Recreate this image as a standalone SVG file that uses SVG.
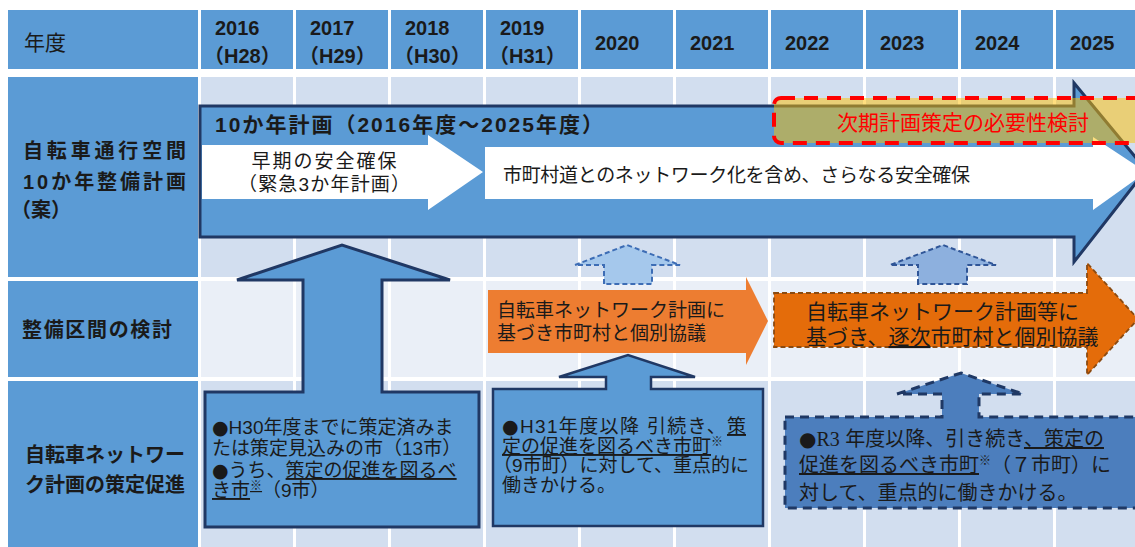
<svg xmlns="http://www.w3.org/2000/svg" width="1135" height="547" viewBox="0 0 1135 547">
<style>
text{font-family:"Liberation Sans","Noto Sans CJK JP",sans-serif;fill:#1a1a1a}
.cj{font-family:"DejaVu Sans","Noto Sans CJK JP",sans-serif}
.hd{fill:#5B9BD5}
.r2{fill:#D2DEEF}
.r3{fill:#EAEFF7}
.lbl{font-size:20px;font-weight:bold}
.yr{font-size:20px;font-weight:bold}
.bx{font-size:19px}
.u{text-decoration:underline}
.sup{font-size:12px;baseline-shift:super}
.dash{stroke-width:2;stroke-dasharray:5 3}
</style>
<defs>
<rect id="c2" width="92" height="200"/>
<rect id="c3" width="92" height="96"/>
<rect id="c4" width="92" height="166"/>
</defs>
<rect width="1135" height="547" fill="#fff"/>
<g id="grid">
 <g class="hd">
  <rect x="8" y="10" width="190" height="59"/>
  <rect x="201" y="10" width="92" height="59"/><rect x="296" y="10" width="92" height="59"/><rect x="391" y="10" width="92" height="59"/><rect x="486" y="10" width="92" height="59"/><rect x="581" y="10" width="92" height="59"/><rect x="676" y="10" width="92" height="59"/><rect x="771" y="10" width="92" height="59"/><rect x="866" y="10" width="92" height="59"/><rect x="961" y="10" width="92" height="59"/><rect x="1056" y="10" width="92" height="59"/>
  <rect x="8" y="77" width="190" height="200"/>
  <rect x="8" y="281" width="190" height="96"/>
  <rect x="8" y="381" width="190" height="170"/>
 </g>
 <g class="r2">
  <use href="#c2" x="201" y="77"/><use href="#c2" x="296" y="77"/><use href="#c2" x="391" y="77"/><use href="#c2" x="486" y="77"/><use href="#c2" x="581" y="77"/><use href="#c2" x="676" y="77"/><use href="#c2" x="771" y="77"/><use href="#c2" x="866" y="77"/><use href="#c2" x="961" y="77"/><use href="#c2" x="1056" y="77"/>
  <use href="#c4" x="201" y="381"/><use href="#c4" x="296" y="381"/><use href="#c4" x="391" y="381"/><use href="#c4" x="486" y="381"/><use href="#c4" x="581" y="381"/><use href="#c4" x="676" y="381"/><use href="#c4" x="771" y="381"/><use href="#c4" x="866" y="381"/><use href="#c4" x="961" y="381"/><use href="#c4" x="1056" y="381"/>
 </g>
 <g class="r3">
  <use href="#c3" x="201" y="281"/><use href="#c3" x="296" y="281"/><use href="#c3" x="391" y="281"/><use href="#c3" x="486" y="281"/><use href="#c3" x="581" y="281"/><use href="#c3" x="676" y="281"/><use href="#c3" x="771" y="281"/><use href="#c3" x="866" y="281"/><use href="#c3" x="961" y="281"/><use href="#c3" x="1056" y="281"/>
 </g>
</g>
<g id="header-labels">
 <text x="24" y="50" font-size="21">年度</text>
 <g class="yr">
  <text x="215" y="35">2016</text><text x="204" y="63">（H28）</text>
  <text x="310" y="35">2017</text><text x="299" y="63">（H29）</text>
  <text x="405" y="35">2018</text><text x="394" y="63">（H30）</text>
  <text x="500" y="35">2019</text><text x="489" y="63">（H31）</text>
  <text x="595" y="50">2020</text>
  <text x="690" y="50">2021</text>
  <text x="785" y="50">2022</text>
  <text x="880" y="50">2023</text>
  <text x="975" y="50">2024</text>
  <text x="1070" y="50">2025</text>
 </g>
</g>
<g id="row-labels" class="lbl">
 <text x="23" y="158" textLength="163">自転車通行空間</text>
 <text x="23" y="189" textLength="163">10か年整備計画</text>
 <text x="11" y="217">（案）</text>
 <text x="22" y="337" textLength="150">整備区間の検討</text>
 <text x="25" y="462" textLength="160">自転車ネットワー</text>
 <text x="25" y="492" textLength="160">ク計画の策定促進</text>
</g>
<g id="plan10">
 <polygon points="200,106 1074,106 1074,83 1146,170 1074,262 1074,237 200,237" fill="#5B9BD5" stroke="#203864" stroke-width="3"/>
 <text x="215" y="132" font-size="21" font-weight="bold" textLength="388">10か年計画（2016年度～2025年度）</text>
</g>
<g id="early">
 <polygon points="202,145 428,145 428,135 483,172 428,210 428,199 202,199" fill="#fff"/>
 <text x="324" y="168" font-size="19" text-anchor="middle" textLength="145">早期の安全確保</text>
 <text x="324" y="191" font-size="19" text-anchor="middle" textLength="172">（緊急3か年計画）</text>
</g>
<g id="further">
 <polygon points="485,147 1093,147 1093,137 1146,172 1093,210 1093,199 485,199" fill="#fff"/>
 <text x="503" y="182" font-size="19" textLength="467">市町村道とのネットワーク化を含め、さらなる安全確保</text>
</g>
<g id="next-plan">
 <rect x="774" y="98" width="380" height="45" rx="7" fill="#FFC000" fill-opacity="0.5" stroke="#FF0000" stroke-width="4" stroke-dasharray="14 9"/>
 <text x="837" y="130" font-size="21" style="fill:#F00">次期計画策定の必要性検討</text>
</g>
<g id="connectors">
 <polygon class="dash" points="604,284 604,265 575,265 627,245 680,265 652,265 652,284" fill="#A5C8EC" stroke="#3D6DB5"/>
 <polygon class="dash" points="918,284 918,265 890,265 943,245 996,265 967,265 967,284" fill="#8DB0DE" stroke="#2F5597"/>
</g>
<g id="consult1">
 <polygon points="488,290 746,290 746,277 768,321 746,365 746,353 488,353" fill="#ED7D31"/>
 <text x="497" y="317" font-size="19">自転車ネットワーク計画に</text>
 <text x="497" y="340" font-size="19">基づき市町村と個別協議</text>
</g>
<g id="consult2">
 <polygon points="774,293 1087,293 1087,263 1138,319 1087,375 1087,347 774,347" fill="#E46C0A" stroke="#8B4A10" stroke-width="1.8" stroke-dasharray="5 3"/>
 <text x="806" y="319" font-size="21">自転車ネットワーク計画等に</text>
 <text x="806" y="344" font-size="21">基づき、<tspan class="u">逐次</tspan>市町村と個別協議</text>
</g>
<g id="promote1">
 <path d="M205,392 H303 V280 H237 L342,245 L450,280 H382 V392 H479 V527 H205 Z" fill="#5B9BD5" stroke="#203864" stroke-width="3"/>
 <g class="bx">
  <text x="212" y="434"><tspan class="cj">●</tspan>H30年度までに策定済みま</text>
  <text x="212" y="455">たは策定見込みの市（13市）</text>
  <text x="212" y="477"><tspan class="cj">●</tspan>うち、<tspan class="u">策定の促進を図るべ</tspan></text>
  <text x="212" y="497"><tspan class="u">き市<tspan class="sup">※</tspan></tspan>（9市）</text>
 </g>
</g>
<g id="promote2">
 <path d="M493,389 H606 V377 H559 L628,355 L695,377 H651 V389 H763 V526 H493 Z" fill="#5B9BD5" stroke="#203864" stroke-width="2.5"/>
 <g class="bx">
  <text x="502" y="433" textLength="244"><tspan class="cj">●</tspan>H31年度以降 引続き、<tspan class="u">策</tspan></text>
  <text x="502" y="453"><tspan class="u">定の促進を図るべき市町</tspan><tspan class="sup">※</tspan></text>
  <text x="493" y="472">（9市町）に対して、重点的に</text>
  <text x="502" y="492">働きかける。</text>
 </g>
</g>
<g id="promote3">
 <path d="M785,417 H942 V394 H897 L961,373 L1023,394 H979 V417 H1140 V508 H785 Z" fill="#4C7EBD" stroke="#1F3864" stroke-width="3" stroke-dasharray="9 6"/>
 <text x="799" y="446" font-size="20"><tspan class="cj">●</tspan><tspan font-family="Liberation Serif">R3</tspan> 年度以降、引き続き<tspan class="u">、策定の</tspan></text>
 <text x="799" y="472" font-size="20"><tspan class="u">促進を図るべき市町</tspan><tspan class="sup">※</tspan>（７市町）に</text>
 <text x="799" y="500" font-size="20">対して、重点的に働きかける。</text>
</g>
</svg>
